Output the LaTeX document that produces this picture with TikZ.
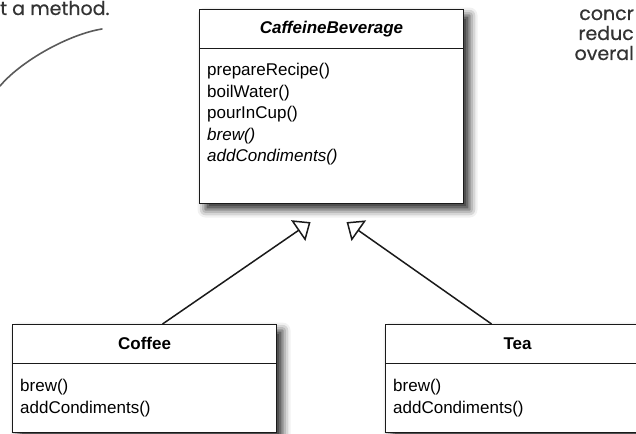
\documentclass[tikz,border=0pt]{standalone}
\usepackage{fontspec}
\setmainfont{Liberation Sans}
\newfontfamily\handfont[FakeBold=0.6]{Poppins}
\usepackage{tikz}
\usetikzlibrary{positioning,arrows.meta,calc,shadows.blur}
\definecolor{cLine} {HTML}{1a1a1a}
\definecolor{cHand} {HTML}{333333}
\definecolor{cCurve}{HTML}{5a5a5a}
\tikzset{
  >={Triangle[open,length=15pt,width=25pt]},
  cbox/.style={draw=cLine,line width=1.1pt,fill=white,inner sep=0pt,
               minimum width=264pt,
               blur shadow={shadow xshift=6pt,shadow yshift=-6pt,
                            shadow blur radius=8pt,shadow opacity=85}},
  cname/.style={inner sep=0pt,minimum height=39pt,
                font=\fontsize{17pt}{21.5pt}\selectfont\bfseries},
  cops/.style={align=left,inner sep=0pt,
               font=\fontsize{17pt}{21.5pt}\selectfont},
  csep/.style={draw=cLine,line width=1.1pt},
  gen/.style={->,line width=1.5pt,cLine},
  hand/.style={cCurve,line width=1.6pt,line cap=round},
  handtxt/.style={cHand,inner sep=0pt,font=\handfont\fontsize{19pt}{20pt}\selectfont},
}

\begin{document}
\begin{tikzpicture}[x=1pt,y=-1pt]
  \useasboundingbox (0,0) rectangle (636,433);
  \clip (0,0) rectangle (636,433);

  % notes round the page
  \node[handtxt,anchor=base west] (noteL) at (0,15) {t a method.};
  \draw[hand] (0,86) .. controls (22,60) and (70,34) .. (102,29);
  \node[handtxt,anchor=base east] (noteR1) at (634,20) {concr};
  \node[handtxt,anchor=base east] (noteR2) at (634,40) {reduc};
  \node[handtxt,anchor=base east] (noteR3) at (634,60) {overal};

  % abstract class
  \node[cbox,minimum height=194pt,anchor=north west] (cb) at (199,9) {};
  \node[cname,below=0pt of cb.north] (cbName) {\itshape CaffeineBeverage};
  \draw[csep] (cb.west |- cbName.south) -- (cb.east |- cbName.south);
  \node[cops,below right=54pt and 8pt of cb.north west] (cbOps)
    {prepareRecipe()\\boilWater()\\pourInCup()\\\textit{brew()}\\\textit{addCondiments()}};

  % subclasses
  \node[cbox,minimum height=108pt,anchor=north west] (cf) at (12,324) {};
  \node[cname,below=0pt of cf.north] (cfName) {Coffee};
  \draw[csep] (cf.west |- cfName.south) -- (cf.east |- cfName.south);
  \node[cops,below right=55pt and 8pt of cf.north west] (cfOps)
    {brew()\\addCondiments()};

  \node[cbox,minimum height=108pt,anchor=north west] (tea) at (385,324) {};
  \node[cname,below=0pt of tea.north] (teaName) {Tea};
  \draw[csep] (tea.west |- teaName.south) -- (tea.east |- teaName.south);
  \node[cops,below right=55pt and 8pt of tea.north west] (teaOps)
    {brew()\\addCondiments()};

  % inheritance
  \coordinate (tipL) at ([xshift=-21pt,yshift=-18pt]cb.south);
  \coordinate (tipR) at ([xshift=15pt,yshift=-18pt]cb.south);
  \draw[gen] ([xshift=18pt]cf.north) -- (tipL);
  \draw[gen] ([xshift=-26pt]tea.north) -- (tipR);
\end{tikzpicture}
\end{document}
